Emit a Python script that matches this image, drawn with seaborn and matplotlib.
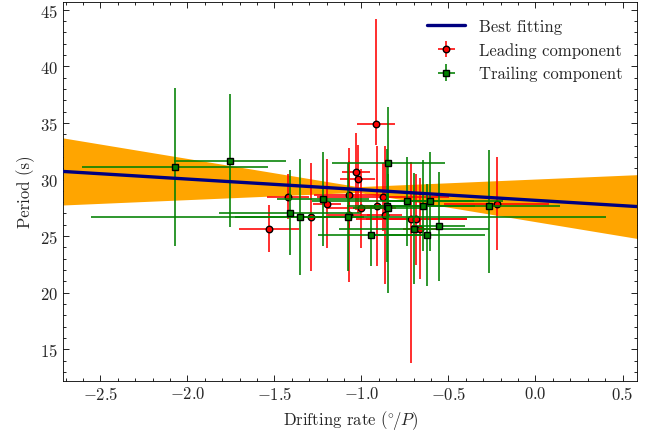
import numpy as np
import pandas as pd
import matplotlib
matplotlib.use("Agg")
import matplotlib.pyplot as plt
from matplotlib.ticker import MultipleLocator
import seaborn as sns

# ---- data ----
lead_x = [-1.531, -1.420, -1.290, -1.199, -1.071, -1.071, -1.029, -1.021, -1.004,
          -0.918, -0.910, -0.876, -0.866, -0.713, -0.686, -0.663, -0.224]
lead_y = [25.67, 28.47, 26.68, 27.88, 28.67, 26.88, 30.70, 30.08, 27.47,
          34.88, 27.68, 28.47, 26.88, 26.47, 26.47, 25.67, 27.88]
lead_xerr = [0.17, 0.12, 0.10, 0.08, 0.20, 0.12, 0.08, 0.10, 0.20,
             0.11, 0.10, 0.38, 0.10, 0.32, 0.29, 0.10, 0.30]
lead_yerr_lo = [2.1, 2.0, 4.8, 3.9, 3.0, 5.9, 3.4, 3.0, 3.5,
                1.8, 5.3, 3.0, 6.1, 12.7, 4.0, 4.5, 4.1]
lead_yerr_hi = [2.1, 2.0, 4.8, 3.9, 3.0, 5.9, 3.4, 3.0, 3.5,
                9.3, 5.3, 3.0, 6.1, 5.1, 4.0, 4.5, 4.1]

trail_x = [-2.071, -1.755, -1.410, -1.356, -1.221, -1.075, -0.948, -0.855, -0.845,
           -0.846, -0.737, -0.699, -0.646, -0.606, -0.623, -0.557, -0.268]
trail_y = [31.09, 31.67, 27.06, 26.68, 28.29, 26.68, 25.09, 27.68, 31.47,
           27.47, 28.07, 25.67, 27.68, 28.07, 25.07, 25.88, 27.68]
trail_xerr = [0.535, 0.32, 0.41, 0.37, 0.265, 1.48, 0.30, 0.23, 0.326,
              0.20, 0.55, 0.43, 0.30, 0.25, 0.33, 0.15, 0.41]
trail_yerr_lo = [7.0, 5.9, 3.75, 5.1, 4.15, 4.8, 2.7, 5.0, 4.9,
                 7.5, 3.9, 4.9, 4.0, 4.4, 4.5, 4.8, 5.9]
trail_yerr_hi = [7.0, 5.9, 3.75, 5.1, 4.15, 4.8, 2.7, 5.0, 4.9,
                 3.0, 3.9, 4.9, 4.0, 4.4, 4.5, 4.8, 4.9]

# best-fit parameters
fit_slope = -0.94
fit_intercept = 28.16
slope_err = 1.60
pivot_x = -1.02
pivot_halfwidth = 0.25

xlim = (-2.715, 0.585)
ylim = (12.25, 45.72)

# ---- style ----
sns.set_theme(style="ticks")
plt.rcParams.update({
    "font.family": "serif",
    "font.serif": ["cmr10"],
    "mathtext.fontset": "cm",
    "axes.formatter.use_mathtext": True,
    "axes.linewidth": 0.6,
    "axes.edgecolor": "black",
    "font.size": 12,
    "axes.labelsize": 12,
    "xtick.labelsize": 12,
    "ytick.labelsize": 12,
    "legend.fontsize": 12,
})

fig = plt.figure(figsize=(6.56, 4.35), dpi=100)
ax = fig.add_axes([63 / 656, 1 - 381.5 / 435, (637.3 - 63) / 656, (381.5 - 2.5) / 435])

xs = np.linspace(xlim[0], xlim[1], 400)
line_y = fit_intercept + fit_slope * xs
yc = fit_intercept + fit_slope * pivot_x
d = xs - pivot_x
a1 = (fit_slope - slope_err) * d
a2 = (fit_slope + slope_err) * d
upper = yc + pivot_halfwidth + np.maximum(a1, a2)
lower = yc - pivot_halfwidth + np.minimum(a1, a2)
ax.fill_between(xs, lower, upper, color="orange", lw=0, zorder=1)

df_fit = pd.DataFrame({"x": xs, "y": line_y})
sns.lineplot(data=df_fit, x="x", y="y", color="navy", lw=2.4, ax=ax,
             label="Best fitting", zorder=4)

ax.errorbar(lead_x, lead_y, xerr=lead_xerr, yerr=[lead_yerr_lo, lead_yerr_hi],
            fmt="o", color="red", ecolor="red", elinewidth=1.15, capsize=0,
            ms=4.7, mfc="red", mec="black", mew=1.0, label="Leading component", zorder=2)
ax.errorbar(trail_x, trail_y, xerr=trail_xerr, yerr=[trail_yerr_lo, trail_yerr_hi],
            fmt="s", color="green", ecolor="green", elinewidth=1.15, capsize=0,
            ms=4.7, mfc="green", mec="black", mew=1.0, label="Trailing component", zorder=3)

ax.set_xlim(*xlim)
ax.set_ylim(*ylim)
ax.set_xlabel(r"Drifting rate $(^{\circ}\!/P)$")
ax.set_ylabel("Period (s)")

ax.xaxis.set_major_locator(MultipleLocator(0.5))
ax.xaxis.set_minor_locator(MultipleLocator(0.1))
ax.yaxis.set_major_locator(MultipleLocator(5))
ax.yaxis.set_minor_locator(MultipleLocator(1))
ax.tick_params(which="both", direction="in", top=True, right=True, color="black")
ax.tick_params(which="major", length=4.5, width=0.6)
ax.tick_params(which="minor", length=2.3, width=0.6)
for s in ax.spines.values():
    s.set_visible(True)

ax.legend(loc="upper right", frameon=False, handlelength=2.3,
          bbox_to_anchor=(1.0, 0.995))

fig.savefig("out.png", dpi=100)
